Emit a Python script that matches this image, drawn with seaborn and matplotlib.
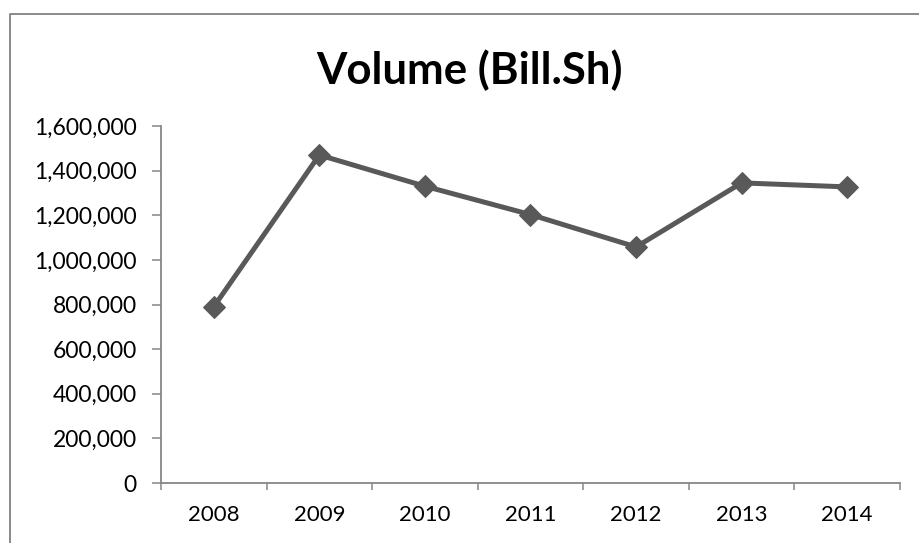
import matplotlib
matplotlib.use("Agg")
import matplotlib.pyplot as plt
import matplotlib.ticker as mticker
from matplotlib.lines import Line2D
import seaborn as sns
import pandas as pd

years = ["2008", "2009", "2010", "2011", "2012", "2013", "2014"]
volume = [790000, 1470000, 1330000, 1203000, 1058000, 1345000, 1327000]
title = "Volume (Bill.Sh)"
y_ticks = [0, 200000, 400000, 600000, 800000, 1000000, 1200000, 1400000, 1600000]

df = pd.DataFrame({"year": years, "volume": volume})

sns.set_theme(style="white")
plt.rcParams["font.family"] = ["Lato", "DejaVu Sans"]

W, H = 920, 543
fig = plt.figure(figsize=(W / 100, H / 100), dpi=100)
ax = fig.add_axes([161 / W, 1 - 483 / H, (900 - 161) / W, (483 - 126) / H])

line_color = "#595959"
sns.lineplot(data=df, x="year", y="volume", ax=ax, color=line_color,
             linewidth=3.6, marker="D", markersize=11.5,
             markeredgecolor=line_color, markerfacecolor=line_color)

ax.set_xlim(-0.5, len(years) - 0.5)
ax.set_ylim(0, 1600000)
ax.set_yticks(y_ticks)
ax.yaxis.set_major_formatter(mticker.FuncFormatter(lambda v, p: f"{int(v):,}"))
ax.set_xticks(range(len(years)))
ax.set_xticklabels(years)
ax.xaxis.set_minor_locator(mticker.FixedLocator([i - 0.5 for i in range(len(years) + 1)]))

axis_color = "#868686"
for s in ["top", "right"]:
    ax.spines[s].set_visible(False)
for s in ["left", "bottom"]:
    ax.spines[s].set_color(axis_color)
    ax.spines[s].set_linewidth(1.3)

ax.tick_params(axis="y", which="major", direction="out", length=6.5, width=1.1,
               color=axis_color, pad=11, labelsize=16.5, labelcolor="black", left=True)
ax.tick_params(axis="x", which="major", length=0, pad=16, labelsize=16, labelcolor="black")
ax.tick_params(axis="x", which="minor", direction="out", length=5, width=1.1,
               color=axis_color, bottom=True)
ax.set_xlabel("")
ax.set_ylabel("")
ax.grid(False)

fig.text(469 / W, 1 - 70 / H, title, ha="center", va="center",
         fontsize=31.5, fontweight="bold", color="black")

border_color = "#8a8a8a"
fig.add_artist(Line2D([10.5 / W, 10.5 / W, 1.0], [0, 1 - 13.5 / H, 1 - 13.5 / H],
                      transform=fig.transFigure, color=border_color, linewidth=1.4))

fig.savefig("out.png", dpi=100, facecolor="white")
